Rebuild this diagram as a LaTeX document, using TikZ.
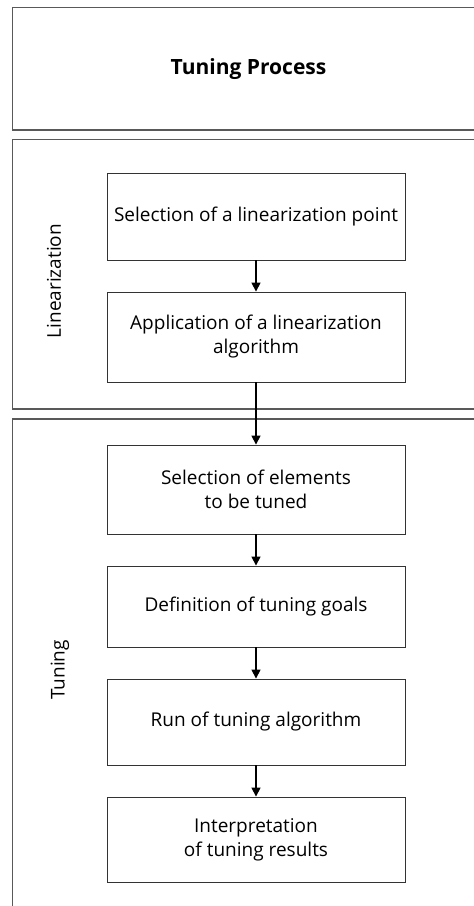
\documentclass[tikz,border=0pt]{standalone}
\usepackage{fontspec}
\setmainfont{Open Sans}
\usetikzlibrary{arrows.meta}
\begin{document}
\begin{tikzpicture}[x=1pt,y=-1pt,
  lane/.style={draw=black!65,line width=1.1pt},
  stepbox/.style={draw=black!80,line width=0.9pt,minimum width=298pt,align=center,
    font=\fontsize{19}{24}\selectfont,inner sep=0pt},
  flow/.style={line width=1.6pt,-{Triangle[length=9pt,width=9pt]}},
  lanelabel/.style={rotate=90,font=\fontsize{19}{22}\selectfont},
  titletext/.style={font=\fontsize{21}{24}\selectfont\bfseries}]
\useasboundingbox (0,0) rectangle (474,906);
\clip (0,0) rectangle (474,906);
% title box
\draw[lane] (480,7.5) -- (12.5,7.5) -- (12.5,130) -- (480,130);
\node[titletext] (title) at (248.5,69) {Tuning Process};
% linearization lane
\draw[lane] (480,139.5) -- (12.5,139.5) -- (12.5,409) -- (480,409);
\node[lanelabel] (linlabel) at (54,281) {Linearization};
% tuning lane
\draw[lane] (480,419) -- (12.5,419) -- (12.5,912);
\node[lanelabel] (tunlabel) at (60,670) {Tuning};
% boxes
\node[stepbox,minimum height=87pt] (b1) at (256,216.5) {Selection of a linearization point};
\node[stepbox,minimum height=90pt] (b2) at (256,337) {Application of a linearization\\algorithm};
\node[stepbox,minimum height=89pt] (b3) at (256,489.5) {Selection of elements\\to be tuned};
\node[stepbox,minimum height=81pt] (b4) at (256,606.5) {Definition of tuning goals};
\node[stepbox,minimum height=86pt] (b5) at (256,722) {Run of tuning algorithm};
\node[stepbox,minimum height=85pt] (b6) at (256,839.5) {Interpretation\\of tuning results};
% arrows
\draw[flow] (b1) -- (b2);
\draw[flow] (b2) -- (b3);
\draw[flow] (b3) -- (b4);
\draw[flow] (b4) -- (b5);
\draw[flow] (b5) -- (b6);
\end{tikzpicture}
\end{document}
